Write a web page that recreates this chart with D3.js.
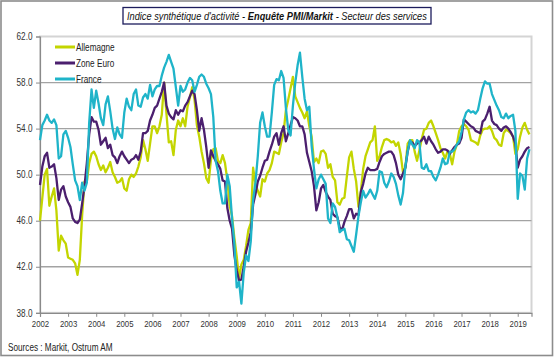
<!DOCTYPE html>
<html>
<head>
<meta charset="utf-8">
<script src="https://cdn.jsdelivr.net/npm/d3@7"></script>
<style>
  html, body { margin: 0; padding: 0; background: #fff; }
  svg { display: block; }
</style>
</head>
<body>
<svg id="chart" width="554" height="357"></svg>
<script>
// ---------- data (monthly, Jan 2002 -> Jun 2019) ----------
const startYear = 2002;
const seriesNames = ["Allemagne", "Zone Euro", "France"];
const yTicks = [38, 42, 46, 50, 54, 58, 62];
const xTickYears = [2002, 2003, 2004, 2005, 2006, 2007, 2008, 2009, 2010, 2011, 2012, 2013, 2014, 2015, 2016, 2017, 2018, 2019];

const allemagne = [
  46.0, 48.0, 50.0, 50.5, 47.3, 48.1, 48.8, 46.9, 43.4, 44.7, 44.3, 44.0,
  42.8, 42.7, 42.6, 42.3, 41.3, 42.6, 46.5, 49.4, 49.4, 51.0, 51.8, 52.0,
  51.6, 50.9, 50.4, 50.8, 50.2, 50.6, 51.1, 50.2, 49.8, 49.3, 49.4, 49.7,
  48.8, 48.6, 49.6, 50.0, 49.8, 50.1, 50.7, 51.5, 53.0, 52.2, 51.2, 52.7,
  54.2, 54.2, 53.6, 54.2, 55.2, 58.0, 55.3, 52.8, 52.9, 51.7, 53.9, 54.7,
  54.2, 54.9, 54.2, 55.9, 56.7, 57.6, 56.5, 54.3, 53.3, 52.0, 51.0, 49.7,
  49.3, 51.3, 52.2, 52.3, 51.2, 51.0, 51.7, 51.0, 49.5, 47.3, 46.4, 44.5,
  42.9, 41.0, 42.2, 42.6, 43.8, 45.2, 45.8, 50.6, 49.2, 48.6, 48.1, 49.6,
  49.4, 50.1, 50.4, 51.0, 52.0, 51.9, 51.8, 52.8, 53.6, 55.6, 56.5, 57.5,
  58.5, 56.8, 56.3, 55.8, 55.4, 54.9, 55.5, 54.2, 53.3, 51.1, 51.4, 51.0,
  52.0, 52.1, 51.8, 50.6, 50.9, 49.8, 49.5, 47.6, 47.4, 47.9, 48.0, 49.8,
  51.5, 52.0, 50.5, 49.4, 47.2, 48.5, 50.5, 51.6, 52.2, 52.8, 53.0, 54.2,
  51.2, 51.6, 52.4, 53.0, 53.1, 53.0, 52.8, 52.9, 52.5, 52.8, 51.8, 50.2,
  50.6, 52.7, 53.0, 53.0, 52.0, 51.2, 52.1, 53.1, 53.9, 54.0, 54.5, 54.7,
  54.2, 53.6, 53.0, 52.3, 51.9, 51.4, 52.0, 51.8, 50.9, 52.0, 52.6, 53.8,
  54.2, 54.4, 54.2, 53.9, 53.0, 52.9, 52.8, 52.6, 53.4, 53.9, 54.0, 54.0,
  54.2, 53.8, 53.2, 53.0, 52.6, 52.5, 53.6, 53.9, 53.8, 53.6, 53.3, 51.8,
  52.2, 53.3, 54.1, 54.5, 53.9, 53.5
];

const zoneEuro = [
  49.1, 50.7, 51.6, 51.9, 50.6, 50.7, 50.9, 49.7, 47.8, 48.7, 49.0, 48.1,
  47.6, 47.2, 46.2, 45.9, 45.8, 46.1, 47.5, 49.0, 51.0, 53.5, 55.0, 54.6,
  54.6, 53.9, 52.6, 52.9, 53.2, 52.3, 52.6, 51.7, 51.5, 51.0, 51.6, 52.0,
  51.6, 51.3, 51.0, 51.3, 51.4, 51.7, 51.3, 52.0, 53.6, 53.6, 53.8, 54.7,
  55.2, 55.8, 56.0, 56.6, 57.2, 58.0, 56.0, 55.3, 55.0, 54.8, 55.6, 55.2,
  55.6, 55.5, 56.0, 56.3, 56.8, 57.3, 57.0, 55.6, 53.8, 54.9, 53.9, 52.4,
  50.6, 52.1, 51.6, 51.2, 50.9, 50.5, 49.5, 49.4, 47.1, 46.0, 45.3, 43.0,
  41.7, 40.8, 40.9, 42.0, 43.3, 44.1, 45.0, 47.4, 48.3, 49.4, 49.9, 50.6,
  51.2, 51.3, 52.0, 52.6, 53.3, 53.6, 52.6, 53.6, 54.2, 52.9, 53.6, 54.3,
  55.0, 54.9, 54.7, 54.2, 54.2, 53.5, 51.9, 51.1, 50.3, 49.0, 46.9, 47.6,
  48.8, 49.1, 48.5, 48.1, 47.8, 46.6, 46.4, 46.3, 45.4, 45.2, 45.9, 46.4,
  47.0, 47.0, 46.2, 46.6, 46.5, 48.5, 49.2, 50.1, 50.6, 50.4, 50.4, 50.4,
  50.5, 51.1, 51.6, 51.8, 51.9, 52.0, 52.0, 51.7, 51.0, 50.0, 49.6, 50.1,
  50.6, 52.0, 52.9, 52.8, 52.5, 52.7, 52.8, 53.0, 53.3, 52.7, 53.3, 52.9,
  52.6, 52.2, 51.9, 52.0, 52.2, 52.2, 52.1, 51.8, 52.1, 52.4, 52.6, 52.7,
  53.2, 54.8, 54.6, 54.4, 54.2, 54.1, 53.8, 53.7, 53.6, 54.6, 54.8, 55.3,
  55.9, 54.7, 54.4, 54.3, 54.0, 53.8, 54.1, 54.2, 54.0, 53.7, 53.3, 52.7,
  50.6, 51.3, 51.6, 52.0, 52.3, 52.4
];

const france = [
  53.0, 54.3, 54.7, 55.2, 54.7, 54.5, 54.8, 54.3, 51.4, 51.6, 53.5, 53.8,
  53.2, 52.4, 50.9, 49.5, 49.0, 47.8, 49.3, 48.6, 49.3, 54.5, 57.4, 55.8,
  57.3, 56.2, 54.9, 54.3, 56.1, 56.8, 55.5, 54.0, 53.1, 54.1, 53.5, 53.2,
  55.4, 56.6, 55.9, 55.6, 57.0, 57.4, 56.0, 55.9, 56.7, 57.0, 56.6, 57.8,
  56.8, 57.4, 57.7, 57.7, 58.6, 59.3, 59.8, 60.4, 59.8, 59.2, 57.6, 56.0,
  57.7, 57.2, 57.4, 58.0, 58.4, 58.2, 57.2, 57.8, 58.5, 58.7, 58.5, 57.9,
  57.5, 57.0, 55.0, 51.2, 50.3, 48.6, 47.5, 47.5, 50.0, 49.0, 46.2, 44.0,
  40.2, 40.7, 38.8, 41.5, 43.0, 42.5, 44.2, 47.8, 49.3, 51.6, 54.5, 55.4,
  54.2, 53.3, 53.3, 55.4, 57.8, 58.3, 58.2, 59.0, 58.4, 55.8, 53.9, 53.4,
  56.0, 58.0, 59.5, 60.6, 58.5, 56.6, 55.6, 55.9, 52.5, 50.5, 48.8, 49.6,
  50.0, 49.6, 49.2, 46.2, 45.8, 47.5, 47.2, 46.3, 45.0, 45.2, 45.3, 44.4,
  44.3, 43.8, 43.3, 44.8, 46.4, 47.6, 48.6, 48.0, 48.3, 48.7, 48.3, 47.9,
  48.6, 50.3, 50.2, 49.3, 48.9, 49.4, 50.1, 49.8, 49.2, 48.2, 47.4, 48.4,
  50.7, 52.0, 53.0, 52.6, 52.3, 53.0, 52.8, 50.6, 50.5, 50.9, 50.3, 50.3,
  49.8, 49.5, 50.0, 50.6, 51.4, 50.9, 51.0, 52.0, 52.0, 52.2, 52.6, 52.9,
  53.7, 54.8, 55.4, 55.6, 55.4, 55.5, 55.3, 55.6, 56.6, 57.5, 58.1, 57.9,
  57.9, 57.0, 56.5, 56.0, 55.6, 55.0, 54.9, 55.3, 54.9, 55.1, 55.2, 53.8,
  47.9, 50.1, 49.9, 48.7, 51.4, 52.2
];

const seriesColors = ["#c3d500", "#4b1f6e", "#1fb4c9"];
const sourceText = "Sources : Markit, Ostrum AM";
const titleParts = [
  { text: "Indice synthétique d'activité - ", bold: false },
  { text: "Enquête PMI/Markit", bold: true },
  { text: " - Secteur des services", bold: false }
];

// ---------- layout ----------
const FONT = "'Liberation Sans', Arial, sans-serif";
const NARROW = 0.82;               // horizontal squeeze to mimic Arial Narrow
const W = 554, H = 357;
const plot = { left: 40, right: 531.5, top: 36.5, bottom: 312.8 };

const svg = d3.select("#chart");

svg.append("rect").attr("x", 0).attr("y", 0).attr("width", W).attr("height", H).attr("fill", "#fff");
// outer frame
svg.append("rect").attr("x", 1).attr("y", 1).attr("width", W - 2.5).attr("height", H - 2.5)
  .attr("fill", "none").attr("stroke", "#8c8c8c").attr("stroke-width", 1.6);

const x = d3.scaleLinear().domain([2002, 2019.49]).range([plot.left, plot.right]);
const y = d3.scaleLinear().domain([38, 62]).range([plot.bottom, plot.top]);

function narrowText(sel, tx, ty) {
  return sel.attr("x", 0).attr("y", 0)
    .attr("transform", `translate(${tx},${ty}) scale(${NARROW},1)`);
}

// plot frame
svg.append("rect").attr("x", plot.left).attr("y", plot.top)
  .attr("width", plot.right - plot.left).attr("height", plot.bottom - plot.top)
  .attr("fill", "none").attr("stroke", "#d4d4d4").attr("stroke-width", 2);

// gridlines
svg.append("g").selectAll("line").data(yTicks.filter(v => v > 38 && v < 62)).join("line")
  .attr("x1", plot.left).attr("x2", plot.right)
  .attr("y1", d => y(d)).attr("y2", d => y(d))
  .attr("stroke", "#a3a3a3").attr("stroke-width", 1.3);

// y axis
const yAxis = d3.axisLeft(y).tickValues(yTicks).tickFormat(d3.format(".1f")).tickSize(4).tickPadding(3);
const gy = svg.append("g").attr("transform", `translate(${plot.left},0)`).call(yAxis);
gy.select(".domain").attr("stroke", "#8a8a8a").attr("stroke-width", 1.2);
gy.selectAll(".tick line").attr("stroke", "#8a8a8a");
gy.selectAll(".tick text").each(function () { narrowText(d3.select(this), -7.5, 0); })
  .attr("font-family", FONT).attr("font-size", 10).attr("fill", "#333");

// x axis
const xAxis = d3.axisBottom(x).tickValues(xTickYears).tickFormat(d3.format("d")).tickSize(4).tickPadding(4);
const gx = svg.append("g").attr("transform", `translate(0,${plot.bottom})`).call(xAxis);
gx.select(".domain").attr("stroke", "#8a8a8a").attr("stroke-width", 1.2);
gx.selectAll(".tick line").attr("stroke", "#8a8a8a");
gx.selectAll(".tick text").each(function () { narrowText(d3.select(this), 0, 7.5); })
  .attr("font-family", FONT).attr("font-size", 9.5).attr("fill", "#333");

// series
const allSeries = [allemagne, zoneEuro, france];
const line = d3.line().x((d, i) => x(startYear + i / 12)).y(d => y(d));
svg.append("g").selectAll("path").data(allSeries).join("path")
  .attr("d", d => line(d))
  .attr("fill", "none")
  .attr("stroke", (d, i) => seriesColors[i])
  .attr("stroke-width", 2.3)
  .attr("stroke-linejoin", "round");

// legend
const legend = svg.append("g");
seriesNames.forEach((name, i) => {
  const ly = 47 + i * 16;
  legend.append("line").attr("x1", 55).attr("x2", 75).attr("y1", ly).attr("y2", ly)
    .attr("stroke", seriesColors[i]).attr("stroke-width", 3);
  narrowText(legend.append("text"), 76, ly + 3.5)
    .attr("font-family", FONT).attr("font-size", 10).attr("fill", "#222").text(name);
});

// title (three runs laid out side by side, squeezed to fit the box)
svg.append("rect").attr("x", 123).attr("y", 7.5).attr("width", 308).attr("height", 16.5)
  .attr("fill", "#fff").attr("stroke", "#1c1c5c").attr("stroke-width", 1.3);
const titleG = svg.append("g");
let cursor = 0;
const runs = titleParts.map(p => {
  const t = titleG.append("text").attr("x", cursor).attr("y", 0)
    .attr("font-family", FONT).attr("font-size", 11).attr("font-style", "italic")
    .attr("font-weight", p.bold ? "bold" : "normal").attr("fill", "#111")
    .attr("xml:space", "preserve").style("white-space", "pre").text(p.text);
  const w = t.node().getComputedTextLength();
  t.attr("x", cursor);
  cursor += w;
  return t;
});
const titleWidth = 300;
const sx = titleWidth / cursor;
titleG.attr("transform", `translate(${277 - titleWidth / 2},20) scale(${sx},1)`);

// sources
narrowText(svg.append("text"), 8, 351).attr("font-family", FONT).attr("font-size", 10)
  .attr("fill", "#222").text(sourceText);
</script>
</body>
</html>
